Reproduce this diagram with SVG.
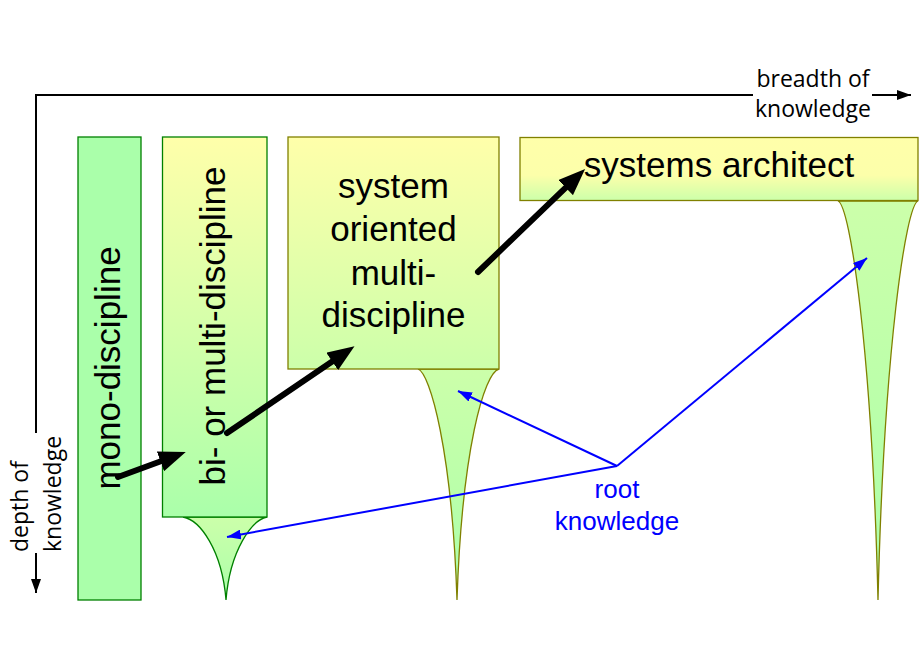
<svg xmlns="http://www.w3.org/2000/svg" width="920" height="660" viewBox="0 0 920 660">
<style>
.lbl{font-family:"Liberation Sans",Arial,sans-serif;font-size:35px;fill:#000}
.ax{font-family:"Open Sans","Noto Sans",sans-serif;font-size:23px;fill:#000}
.rk{font-family:"Liberation Sans",Arial,sans-serif;font-size:26px;fill:#0000ff}
.axis{fill:none;stroke:#000;stroke-width:2}
.big{fill:none;stroke:#000;stroke-width:6;stroke-linecap:round}
.blue{fill:none;stroke:#0000ff;stroke-width:2}
.gstroke{stroke:#008000;stroke-width:1.3}
.ostroke{stroke:#808000;stroke-width:1.3}
</style>
<defs>
<linearGradient id="gBi" x1="0" y1="0" x2="0" y2="1">
<stop offset="0" stop-color="#ffffaa"/><stop offset="1" stop-color="#aaffaa"/>
</linearGradient>
<linearGradient id="gSys" x1="0" y1="0" x2="0" y2="1">
<stop offset="0" stop-color="#ffffaa"/><stop offset="1" stop-color="#ccffaa"/>
</linearGradient>
<linearGradient id="gArch" x1="0" y1="0" x2="0" y2="1">
<stop offset="0" stop-color="#ffffaa"/><stop offset="0.6" stop-color="#fcffaa"/><stop offset="1" stop-color="#ccffaa"/>
</linearGradient>
<linearGradient id="gRoot" x1="0" y1="0" x2="0" y2="1">
<stop offset="0" stop-color="#ccffaa"/><stop offset="1" stop-color="#aaffaa"/>
</linearGradient>
<marker id="ahAxis" markerWidth="7" markerHeight="5" refX="7" refY="2.5" orient="auto" markerUnits="strokeWidth">
<path d="M0,0 L7,2.5 L0,5 Z" fill="#000"/>
</marker>
<marker id="ahBig" markerWidth="4.5" markerHeight="3.5" refX="2" refY="1.75" orient="auto" markerUnits="strokeWidth">
<path d="M0,0 L4.5,1.75 L0,3.5 Z" fill="#000"/>
</marker>
<marker id="ahBlue" markerWidth="7" markerHeight="5" refX="7" refY="2.5" orient="auto" markerUnits="strokeWidth">
<path d="M0,0 L7,2.5 L0,5 Z" fill="#0000ff"/>
</marker>
</defs>

<g id="axes">
<path class="axis" d="M753,95 H36 V433"/>
<path class="axis" d="M872,95 H911" marker-end="url(#ahAxis)"/>
<path class="axis" d="M36,553 V593" marker-end="url(#ahAxis)"/>
<text class="ax" x="813" y="87" text-anchor="middle">breadth of</text>
<text class="ax" x="813" y="117" text-anchor="middle">knowledge</text>
<text class="ax" transform="translate(28,552) rotate(-90)">depth of</text>
<text class="ax" transform="translate(61,552) rotate(-90)">knowledge</text>
</g>

<g id="mono">
<rect class="gstroke" x="78" y="137" width="63" height="463" fill="#aaffaa"/>
<text class="lbl" transform="translate(120,368) rotate(-90)" text-anchor="middle">mono-discipline</text>
</g>

<g id="bi">
<path class="gstroke" d="M183,517 C200,520 222,550 226,600 C230,550 252,520 267,517 Z" fill="url(#gRoot)"/>
<rect class="gstroke" x="162.5" y="137" width="104.5" height="380" fill="url(#gBi)"/>
<text class="lbl" transform="translate(225,326) rotate(-90)" text-anchor="middle">bi- or multi-discipline</text>
</g>

<g id="sys">
<path class="ostroke" d="M418,369 C430,373 452,450 457,600 C462,450 484,373 499,369 Z" fill="url(#gRoot)"/>
<rect class="ostroke" x="288" y="137" width="211" height="232" fill="url(#gSys)"/>
<text class="lbl" x="393.5" y="198" text-anchor="middle">system</text>
<text class="lbl" x="393.5" y="241" text-anchor="middle">oriented</text>
<text class="lbl" x="393.5" y="285" text-anchor="middle">multi-</text>
<text class="lbl" x="393.5" y="327" text-anchor="middle">discipline</text>
</g>

<g id="arch">
<path class="ostroke" d="M838,201 C850,205 872,350 878,600 C884,350 906,205 918,201 Z" fill="url(#gRoot)"/>
<rect class="ostroke" x="520" y="137.5" width="398" height="63" fill="url(#gArch)"/>
<text class="lbl" x="719" y="177" text-anchor="middle">systems architect</text>
</g>

<g id="rootlabel">
<text class="rk" x="617" y="498" text-anchor="middle">root</text>
<text class="rk" x="617" y="530" text-anchor="middle">knowledge</text>
</g>

<g id="connectors">
<path class="big" d="M118,477 L171.7,457.2" marker-end="url(#ahBig)"/>
<path class="big" d="M227,433 L342.1,354.7" marker-end="url(#ahBig)"/>
<path class="big" d="M478,272 L574.3,179.3" marker-end="url(#ahBig)"/>
<path class="blue" d="M617,466 L227,537" marker-end="url(#ahBlue)"/>
<path class="blue" d="M617,466 L458,391" marker-end="url(#ahBlue)"/>
<path class="blue" d="M617,466 L867,258" marker-end="url(#ahBlue)"/>
</g>
</svg>
